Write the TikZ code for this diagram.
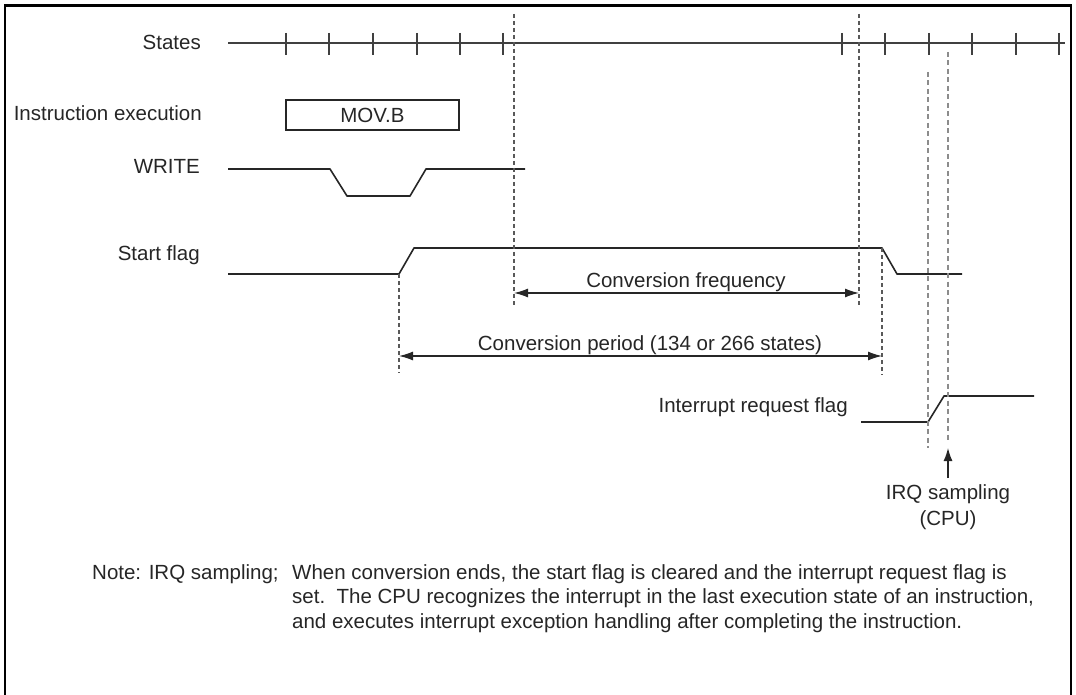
\documentclass[tikz,border=0pt]{standalone}
\usepackage{fontspec}
\setmainfont{Liberation Sans}
\usetikzlibrary{arrows.meta}
\begin{document}
\begin{tikzpicture}[x=1pt,y=-1pt,
  frame/.style={line width=2.2pt, draw=black},
  sig/.style={line width=1.6pt, draw=black!85, line join=round},
  axis/.style={line width=1.8pt, draw=black!75},
  tick/.style={line width=1.3pt, draw=black!75},
  guide/.style={line width=1.2pt, draw=black!65, dash pattern=on 4pt off 3pt},
  lguide/.style={line width=1.5pt, draw=black!45, dash pattern=on 5pt off 3.5pt},
  dim/.style={line width=1.3pt, draw=black!85, {Latex[length=14pt,width=9pt]}-{Latex[length=14pt,width=9pt]}},
  up/.style={line width=1.3pt, draw=black!85, -{Latex[length=13pt,width=9pt]}},
  lbl/.style={font=\fontsize{20.5}{24.5}\selectfont, inner sep=0pt, text=black!85},
  box/.style={draw=black!85, line width=1.5pt, minimum width=173pt, minimum height=30pt, inner sep=0pt}
]
\useasboundingbox (0,0) rectangle (1076,695);
\draw[frame] (5,695) -- (5,5.5) -- (1071,5.5) -- (1071,695);

% labels
\node[lbl, anchor=base east] (lstates) at (201,50) {States};
\node[lbl, anchor=base east] (linstr) at (202,121) {Instruction execution};
\node[lbl, anchor=base east] (lwrite) at (200,174) {WRITE};
\node[lbl, anchor=base east] (lstart) at (200,260) {Start flag};
\node[lbl, anchor=base east] (lirq) at (848,412) {Interrupt request flag};

% states axis
\coordinate (s0) at (228,43);
\coordinate (s1) at (1065,43);
\draw[axis] (s0) -- (s1);
\foreach \x in {286,329,373,417,460,503,842,885,929,972,1016,1059}
  \draw[tick] (\x,33) -- (\x,55);

% instruction box
\node[box, lbl] (mov) at (372.5,115) {MOV.B};

% WRITE signal
\coordinate (w0) at (228,169);
\coordinate (w1) at (330,169);
\coordinate (w2) at (347,196);
\coordinate (w3) at (410,196);
\coordinate (w4) at (426,169);
\coordinate (w5) at (525,169);
\draw[sig] (w0) -- (w1) -- (w2) -- (w3) -- (w4) -- (w5);

% Start flag
\coordinate (f0) at (228,274);
\coordinate (f1) at (399,274);
\coordinate (f2) at (414,248);
\coordinate (f3) at (882,248);
\coordinate (f4) at (897,274);
\coordinate (f5) at (962,274);
\draw[sig] (f0) -- (f1) -- (f2) -- (f3) -- (f4) -- (f5);

% Interrupt request flag
\coordinate (i0) at (861,422);
\coordinate (i1) at (928,422);
\coordinate (i2) at (944,396);
\coordinate (i3) at (1034,396);
\draw[sig] (i0) -- (i1) -- (i2) -- (i3);

% guides
\coordinate (gA0) at (514,14);  \coordinate (gA1) at (514,307);
\coordinate (gB0) at (859,14);  \coordinate (gB1) at (859,307);
\coordinate (gC1) at (399,373);
\coordinate (gD1) at (882,375);
\coordinate (gE0) at (928,72);  \coordinate (gE1) at (928,448);
\coordinate (gF0) at (948,52);  \coordinate (gF1) at (948,442);
\draw[guide] (gA0) -- (gA1);
\draw[guide] (gB0) -- (gB1);
\draw[guide] (f1) -- (gC1);
\draw[guide] (f3) -- (gD1);
\draw[lguide] (gE0) -- (gE1);
\draw[lguide] (gF0) -- (gF1);

% dimension arrows
\coordinate (cfL) at (514,293); \coordinate (cfR) at (859,293);
\coordinate (cpL) at (399,356); \coordinate (cpR) at (882,356);
\draw[dim] (cfL) -- (cfR);
\draw[dim] (cpL) -- (cpR);
\node[lbl, anchor=base] (lcf) at (686,287) {Conversion frequency};
\node[lbl, anchor=base] (lcp) at (650,350) {Conversion period (134 or 266 states)};

% IRQ sampling
\coordinate (a0) at (948,478);
\coordinate (a1) at (948,448);
\draw[up] (a0) -- (a1);
\node[lbl, anchor=base] (lsamp1) at (948,499) {IRQ sampling};
\node[lbl, anchor=base] (lsamp2) at (948,525) {(CPU)};

% note
\node[lbl, anchor=base west] (nhead) at (92,579) {Note: IRQ sampling;};
\node[lbl, anchor=base west] (n1) at (292,579) {When conversion ends, the start flag is cleared and the interrupt request flag is};
\node[lbl, anchor=base west] (n2) at (292,603) {set.\ \ The CPU recognizes the interrupt in the last execution state of an instruction,};
\node[lbl, anchor=base west] (n3) at (292,628) {and executes interrupt exception handling after completing the instruction.};
\end{tikzpicture}
\end{document}
